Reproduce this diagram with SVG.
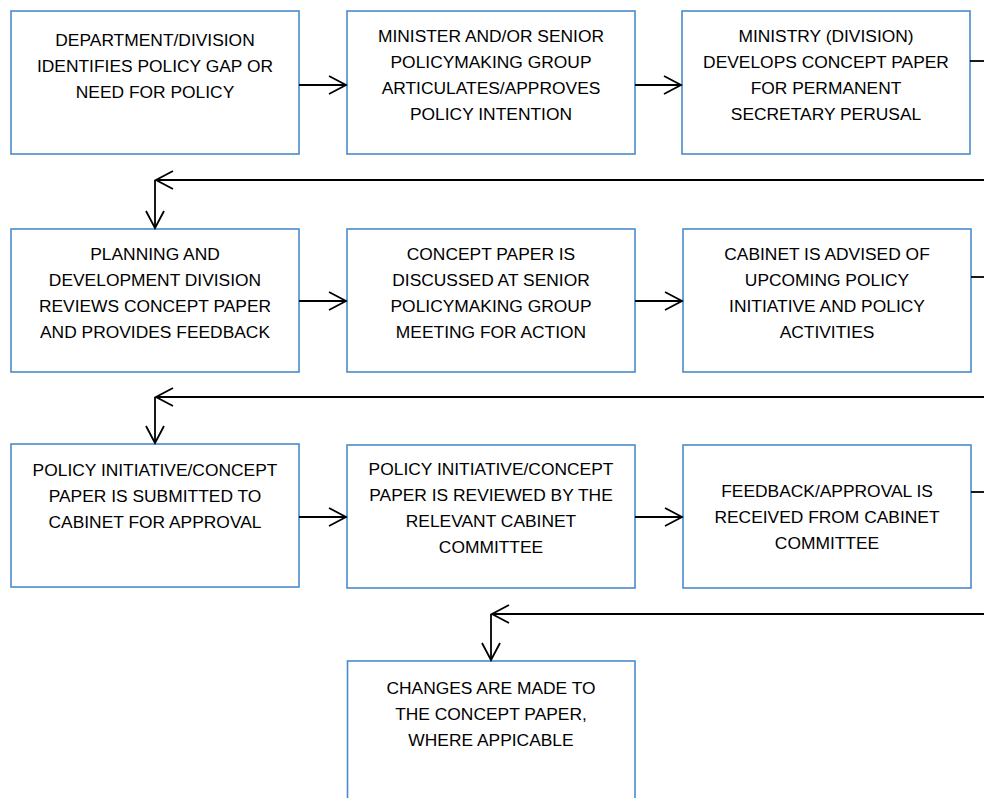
<svg xmlns="http://www.w3.org/2000/svg" width="984" height="798" viewBox="0 0 984 798">
<style>
.box{fill:#fff;stroke:#4A8BCB;stroke-width:1.6}
.t{font-family:"Liberation Sans",Arial,sans-serif;font-size:17.4px;fill:#000;text-anchor:middle}
.c{fill:none;stroke:#000;stroke-width:1.8}
</style>
<defs>
<marker id="ah" markerUnits="userSpaceOnUse" markerWidth="24" markerHeight="24" viewBox="-20 -12 24 24" refX="0" refY="0" orient="auto">
<path d="M-17,-9 L0,0 L-17,9" fill="none" stroke="#000" stroke-width="1.8"/>
</marker>
</defs>
<rect width="984" height="798" fill="#fff"/>
<g id="n1"><rect class="box" x="11" y="11" width="288" height="143"/>
<text class="t" x="155" y="45.5">DEPARTMENT/DIVISION</text><text class="t" x="155" y="71.5">IDENTIFIES POLICY GAP OR</text><text class="t" x="155" y="97.5">NEED FOR POLICY</text></g>
<g id="n2"><rect class="box" x="347" y="11" width="288" height="143"/>
<text class="t" x="491" y="42">MINISTER AND/OR SENIOR</text><text class="t" x="491" y="68">POLICYMAKING GROUP</text><text class="t" x="491" y="94">ARTICULATES/APPROVES</text><text class="t" x="491" y="120">POLICY INTENTION</text></g>
<g id="n3"><rect class="box" x="682" y="11" width="288" height="143"/>
<text class="t" x="826" y="42">MINISTRY (DIVISION)</text><text class="t" x="826" y="68">DEVELOPS CONCEPT PAPER</text><text class="t" x="826" y="94">FOR PERMANENT</text><text class="t" x="826" y="120">SECRETARY PERUSAL</text></g>
<g id="n4"><rect class="box" x="11" y="229" width="288" height="143"/>
<text class="t" x="155" y="260">PLANNING AND</text><text class="t" x="155" y="286">DEVELOPMENT DIVISION</text><text class="t" x="155" y="312">REVIEWS CONCEPT PAPER</text><text class="t" x="155" y="338">AND PROVIDES FEEDBACK</text></g>
<g id="n5"><rect class="box" x="347" y="229" width="288" height="143"/>
<text class="t" x="491" y="260">CONCEPT PAPER IS</text><text class="t" x="491" y="286">DISCUSSED AT SENIOR</text><text class="t" x="491" y="312">POLICYMAKING GROUP</text><text class="t" x="491" y="338">MEETING FOR ACTION</text></g>
<g id="n6"><rect class="box" x="683" y="229" width="288" height="143"/>
<text class="t" x="827" y="260">CABINET IS ADVISED OF</text><text class="t" x="827" y="286">UPCOMING POLICY</text><text class="t" x="827" y="312">INITIATIVE AND POLICY</text><text class="t" x="827" y="338">ACTIVITIES</text></g>
<g id="n7"><rect class="box" x="11" y="444" width="288" height="143"/>
<text class="t" x="155" y="476">POLICY INITIATIVE/CONCEPT</text><text class="t" x="155" y="502">PAPER IS SUBMITTED TO</text><text class="t" x="155" y="528">CABINET FOR APPROVAL</text></g>
<g id="n8"><rect class="box" x="347" y="445" width="288" height="143"/>
<text class="t" x="491" y="475">POLICY INITIATIVE/CONCEPT</text><text class="t" x="491" y="501">PAPER IS REVIEWED BY THE</text><text class="t" x="491" y="527">RELEVANT CABINET</text><text class="t" x="491" y="553">COMMITTEE</text></g>
<g id="n9"><rect class="box" x="683" y="445" width="288" height="143"/>
<text class="t" x="827" y="497">FEEDBACK/APPROVAL IS</text><text class="t" x="827" y="523">RECEIVED FROM CABINET</text><text class="t" x="827" y="549">COMMITTEE</text></g>
<g id="n10"><rect class="box" x="347.5" y="661" width="287.5" height="150"/>
<text class="t" x="491" y="694">CHANGES ARE MADE TO</text><text class="t" x="491" y="720">THE CONCEPT PAPER,</text><text class="t" x="491" y="746">WHERE APPICABLE</text></g>
<g id="connectors">
<path class="c" d="M299,85 H346" marker-end="url(#ah)"/>
<path class="c" d="M635,85 H681" marker-end="url(#ah)"/>
<path class="c" d="M970,61 H984"/>
<path class="c" d="M984,180 H156" marker-end="url(#ah)"/>
<path class="c" d="M155,180 V228" marker-end="url(#ah)"/>
<path class="c" d="M299,301 H346" marker-end="url(#ah)"/>
<path class="c" d="M635,301 H682" marker-end="url(#ah)"/>
<path class="c" d="M971,277 H984"/>
<path class="c" d="M984,397 H156" marker-end="url(#ah)"/>
<path class="c" d="M155,397 V443" marker-end="url(#ah)"/>
<path class="c" d="M299,517 H346" marker-end="url(#ah)"/>
<path class="c" d="M635,517 H682" marker-end="url(#ah)"/>
<path class="c" d="M971,492 H984"/>
<path class="c" d="M984,614 H492" marker-end="url(#ah)"/>
<path class="c" d="M491,614 V660" marker-end="url(#ah)"/>
</g>
</svg>
